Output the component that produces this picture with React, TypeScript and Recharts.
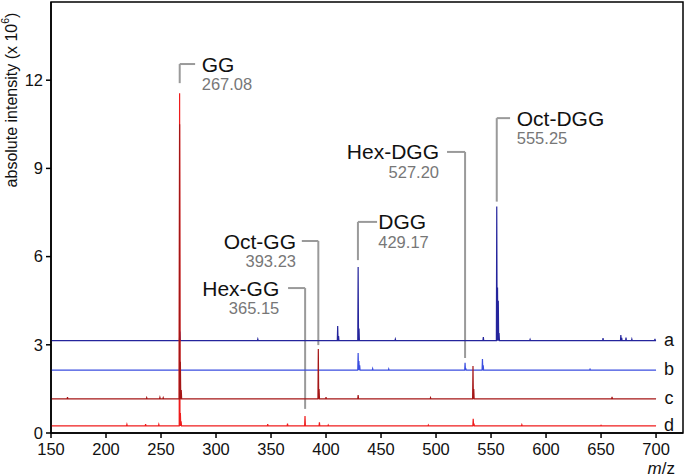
import { LineChart, Line, XAxis, YAxis, ReferenceLine, ReferenceDot, ReferenceArea } from "recharts";

const xTicks = [150, 200, 250, 300, 350, 400, 450, 500, 550, 600, 650, 700];
const yTicks = [0, 3, 6, 9, 12];

// baseline offset of each trace (x 10^6)
const traceNames = ["a", "b", "c", "d"];
const baselines = [3.14, 2.14, 1.16, 0.24];
const colors = ["#24249c", "#3b4ee0", "#a51616", "#ef1c1c"];

// peaks: [m/z, top of peak]
const peaksA = [
  [267.1, 3.45], [338, 3.19], [410.6, 3.64], [411.4, 3.3], [429.2, 5.65], [430.0, 3.55],
  [463, 3.19], [543, 3.26], [555.2, 7.7], [555.9, 4.95], [556.6, 4.5], [557.3, 3.4],
  [585.5, 3.18], [651.8, 3.23], [668, 3.33], [668.8, 3.24], [672.7, 3.25], [678, 3.19], [699, 3.2],
];
const peaksB = [
  [267.1, 2.3], [429.2, 2.72], [429.9, 2.45], [430.6, 2.3], [442.4, 2.19], [457, 2.18],
  [526.4, 2.39], [527.1, 2.2], [542.2, 2.52], [542.9, 2.3], [640, 2.17],
];
const peaksC = [
  [165, 1.22], [237, 1.2], [249, 1.21], [252, 1.2], [266.9, 10.5], [267.6, 2.42], [268.4, 1.46],
  [393.0, 2.86], [393.7, 1.5], [400, 1.22], [429.2, 1.29], [495, 1.2], [533.6, 2.28],
  [534.3, 1.5], [660, 1.23],
];
const peaksD = [
  [219, 0.29], [236, 0.3], [248, 0.29], [266.9, 11.56], [267.6, 0.68], [268.3, 0.4],
  [347, 0.3], [365, 0.32], [380.9, 0.58], [394, 0.36], [402, 0.27], [493, 0.27],
  [533.8, 0.48], [534.5, 0.32], [578, 0.28], [650, 0.26],
];
const allPeaks = [peaksA, peaksB, peaksC, peaksD];

// annotations: name, mass label, peak m/z, leader bottom, elbow height, elbow end, text x, side
const annotations = [
  { name: "GG", mass: "267.08", peak: 267, low: 11.9, high: 12.55, end: 281, textX: 287, side: "right" },
  { name: "Oct-GG", mass: "393.23", peak: 393, low: 2.99, high: 6.53, end: 378, textX: 372.7, side: "left" },
  { name: "Hex-GG", mass: "365.15", peak: 381, low: 0.82, high: 4.93, end: 365.5, textX: 357.5, side: "left" },
  { name: "DGG", mass: "429.17", peak: 429, low: 5.88, high: 7.18, end: 446.4, textX: 447.5, side: "right" },
  { name: "Hex-DGG", mass: "527.20", peak: 526.4, low: 2.55, high: 9.56, end: 510, textX: 502.7, side: "left" },
  { name: "Oct-DGG", mass: "555.25", peak: 555.2, low: 7.87, high: 10.71, end: 567.3, textX: 573.4, side: "right" },
];

const X_MIN = 150;
const X_MAX = 724.5;
const X_END = 700;
const Y_MAX = 14.66;
const HALF = 0.35;

const buildSeries = (base: number, peaks: number[][]) => {
  const pts: { mz: number; v: number }[] = [{ mz: X_MIN, v: base }];
  peaks.forEach(([mz, top]) => {
    pts.push({ mz: mz - HALF, v: base });
    pts.push({ mz, v: top });
    pts.push({ mz: mz + HALF, v: base });
  });
  pts.push({ mz: X_END, v: base });
  return pts;
};

const series = baselines.map((b, i) => buildSeries(b, allPeaks[i]));

const font = "'Liberation Sans', Arial, sans-serif";

const YLabel = () => (
  <text
    x={11}
    y={100}
    transform="rotate(-90 11 100)"
    textAnchor="middle"
    dominantBaseline="central"
    fontSize={16}
    fill="#111"
    fontFamily={font}
  >
    absolute intensity (x 10
    <tspan dy={-6} fontSize={10.5}>6</tspan>
    <tspan dy={6}>)</tspan>
  </text>
);

const XLabel = () => (
  <text x={675} y={468} textAnchor="end" dominantBaseline="central" fontSize={17} fill="#111" fontFamily={font}>
    <tspan fontStyle="italic">m</tspan>/z
  </text>
);

export default function App() {
  // draw order: a, b, d, c so the dark red sits on top of the bright red
  const order = [0, 1, 3, 2];
  return (
    <div style={{ position: "absolute", left: 0, top: 0, fontFamily: font }}>
      <LineChart width={685} height={476} margin={{ top: 2, right: 2, left: 0, bottom: 0 }}>
        <XAxis
          type="number"
          dataKey="mz"
          domain={[X_MIN, X_MAX]}
          ticks={xTicks}
          allowDataOverflow
          height={43}
          tickSize={5}
          tickMargin={5}
          axisLine={{ stroke: "#000", strokeWidth: 1.5 }}
          tickLine={{ stroke: "#000", strokeWidth: 1.5 }}
          tick={{ fill: "#111", fontSize: 16.5, fontFamily: font }}
          label={{ content: () => <XLabel /> }}
        />
        <YAxis
          type="number"
          domain={[0, Y_MAX]}
          ticks={yTicks}
          allowDataOverflow
          width={51}
          tickSize={5}
          tickMargin={3}
          axisLine={{ stroke: "#000", strokeWidth: 1.5 }}
          tickLine={{ stroke: "#000", strokeWidth: 1.5 }}
          tick={{ fill: "#111", fontSize: 16.5, fontFamily: font }}
          label={{ content: () => <YLabel /> }}
        />
        <ReferenceArea x1={X_MIN} x2={X_MAX} y1={0} y2={Y_MAX} fill="none" stroke="#000" strokeWidth={1.5} />

        {annotations.map((a) => (
          <ReferenceLine
            key={a.name + "-v"}
            segment={[{ x: a.peak, y: a.low }, { x: a.peak, y: a.high }]}
            stroke="#9a9a9a"
            strokeWidth={2}
          />
        ))}
        {annotations.map((a) => (
          <ReferenceLine
            key={a.name + "-h"}
            segment={[{ x: a.end, y: a.high }, { x: a.peak, y: a.high }]}
            stroke="#9a9a9a"
            strokeWidth={2}
          />
        ))}

        {order.map((i) => (
          <Line
            key={traceNames[i]}
            data={series[i]}
            dataKey="v"
            type="linear"
            stroke={colors[i]}
            strokeWidth={1.2}
            dot={false}
            activeDot={false}
            isAnimationActive={false}
          />
        ))}

        {annotations.map((a) => (
          <ReferenceDot
            key={a.name + "-t"}
            x={a.textX}
            y={a.high}
            r={0}
            shape={(p: any) => (
              <g>
                <text
                  x={p.cx}
                  y={p.cy}
                  textAnchor={a.side === "right" ? "start" : "end"}
                  dominantBaseline="central"
                  fontSize={21}
                  fill="#111"
                  fontFamily={font}
                >
                  {a.name}
                </text>
                <text
                  x={p.cx}
                  y={p.cy + 20}
                  textAnchor={a.side === "right" ? "start" : "end"}
                  dominantBaseline="central"
                  fontSize={16.5}
                  fill="#777"
                  fontFamily={font}
                >
                  {a.mass}
                </text>
              </g>
            )}
          />
        ))}

        {traceNames.map((n, i) => (
          <ReferenceDot
            key={"lbl-" + n}
            x={711.8}
            y={baselines[i]}
            r={0}
            shape={(p: any) => (
              <text x={p.cx} y={p.cy - 1} textAnchor="middle" dominantBaseline="central" fontSize={18} fill="#111" fontFamily={font}>
                {n}
              </text>
            )}
          />
        ))}
      </LineChart>
    </div>
  );
}
